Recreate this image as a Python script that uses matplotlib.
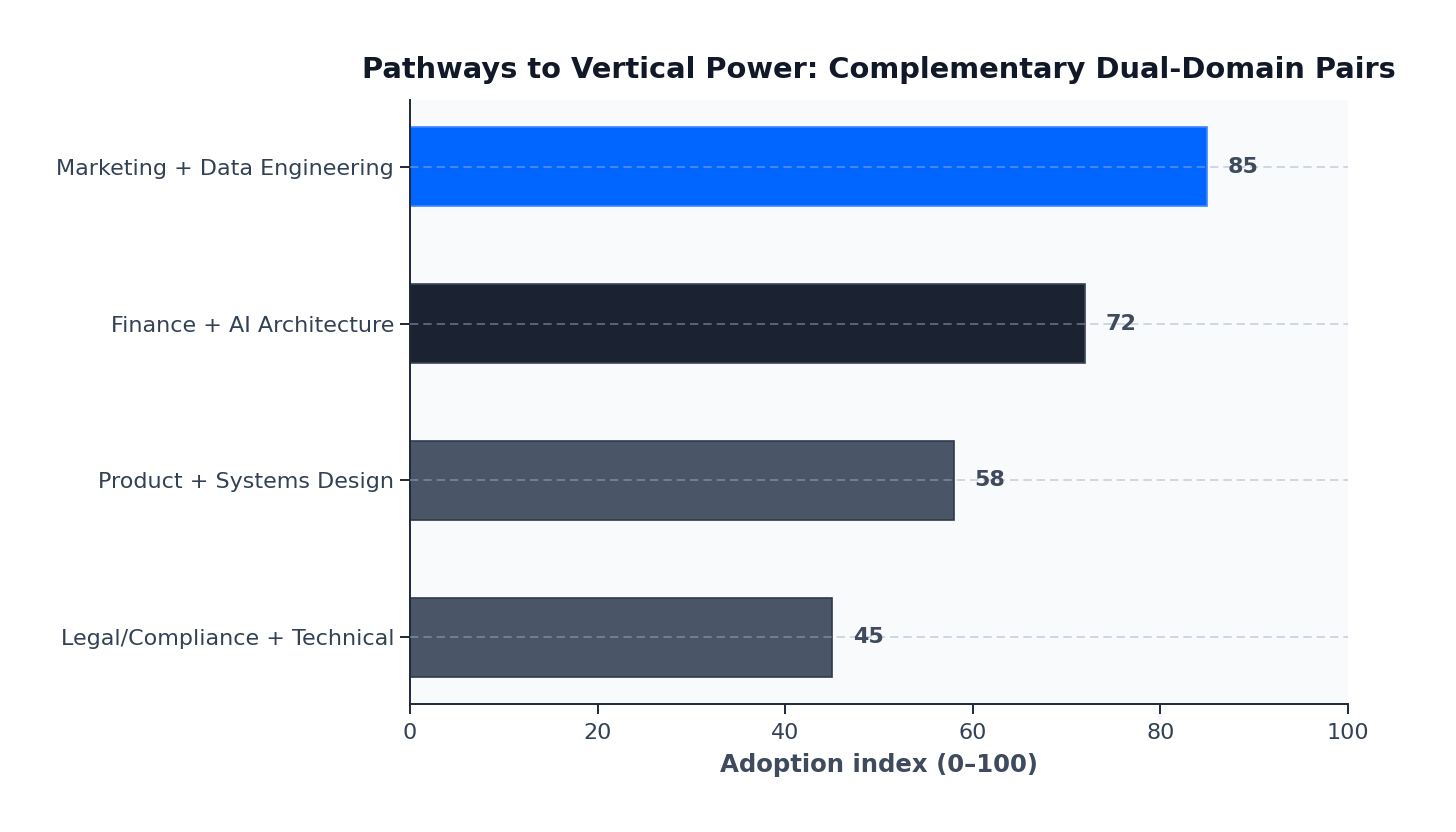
import matplotlib
matplotlib.use("Agg")
import matplotlib.pyplot as plt

categories = ["Marketing + Data Engineering", "Finance + AI Architecture",
              "Product + Systems Design", "Legal/Compliance + Technical"]
values = [85, 72, 58, 45]
colors = ["#0066FF", "#1B2333", "#4A5568", "#4A5568"]
edges = ["#3D85FF", "#3A4456", "#2F3A4C", "#2F3A4C"]
xticks = [0, 20, 40, 60, 80, 100]

plt.rcParams['font.family'] = ['DejaVu Sans']
fig = plt.figure(figsize=(7.28, 4.16), dpi=200)
ax = fig.add_axes([0.2816, 0.1538, 0.9258 - 0.2816, 0.8798 - 0.1538])
ax.set_facecolor("#F8FAFC")

pos = list(range(len(categories)))[::-1]
ax.barh(pos, values, height=0.5, color=colors, edgecolor=edges,
        linewidth=0.6, zorder=2)
for p, v in zip(pos, values):
    ax.text(v + 2.2, p, f"{v}", va="center", ha="left", fontsize=8,
            fontweight="bold", color="#3F4A5E", zorder=4)

ax.set_yticks(pos)
ax.set_yticklabels(categories)
ax.set_xlim(0, 100)
ax.set_xticks(xticks)
ax.grid(axis="y", linestyle=(0, (5, 3)), color="#A0AEC0", alpha=0.55,
        linewidth=0.6, zorder=3)
ax.set_axisbelow(False)
ax.grid(axis="x", visible=False)
for s in ["top", "right"]:
    ax.spines[s].set_visible(False)
for s in ["left", "bottom"]:
    ax.spines[s].set_color("#1E293B")
    ax.spines[s].set_linewidth(0.7)
ax.tick_params(axis="both", colors="#1E293B", labelcolor="#334155", labelsize=8,
               width=0.7, length=3.5)
ax.tick_params(axis="y", pad=2.2)
ax.set_xlabel("Adoption index (0–100)", fontsize=8.8, fontweight="bold",
              color="#3F4A5E", labelpad=3.5)
ax.set_title("Pathways to Vertical Power: Complementary Dual-Domain Pairs",
             fontsize=10.4, fontweight="bold", color="#111827", pad=8)

fig.savefig("out.png", dpi=200, facecolor="white")
